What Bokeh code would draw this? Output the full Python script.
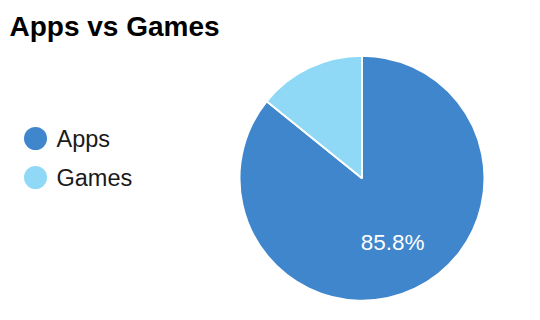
import math
from bokeh.plotting import figure
from bokeh.models import Range1d, ColumnDataSource
from bokeh.core.properties import value
from bokeh.embed import file_html
from bokeh.resources import INLINE

title_text = "Apps vs Games"
categories = ["Apps", "Games"]
shares = [85.8, 14.2]
colors = ["#3f86cc", "#8fd9f6"]

W, H = 540, 320
p = figure(width=W, height=H, output_backend="svg", toolbar_location=None,
           x_range=Range1d(0, W), y_range=Range1d(0, H), min_border=0)
p.axis.visible = False
p.grid.visible = False
p.outline_line_color = None
p.background_fill_color = "white"
p.border_fill_color = "white"

cx, cy, r = 361.5, H - 177.7, 122.5
total = sum(shares)
# slices go clockwise from 12 o'clock
starts, ends = [], []
acc = 0.0
for s in shares:
    a0 = math.pi / 2 - 2 * math.pi * acc / total
    a1 = math.pi / 2 - 2 * math.pi * (acc + s) / total
    starts.append(a1)
    ends.append(a0)
    acc += s
src = ColumnDataSource(dict(start=starts, end=ends, color=colors, cat=categories))
p.wedge(x=cx, y=cy, radius=r, start_angle="start", end_angle="end",
        fill_color="color", line_color="white", line_width=2, source=src)

# percentage label for the big slice
lx, ly, la = [], [], []
acc = 0.0
for s in shares:
    mid = math.pi / 2 - 2 * math.pi * (acc + s / 2) / total
    acc += s
    if s / total > 0.2:
        lx.append(cx + 0.58 * r * math.cos(mid))
        ly.append(cy + 0.58 * r * math.sin(mid))
        la.append(f"{s:.1f}%")
p.text(x=lx, y=ly, text=la, text_color="white", text_font=value("Liberation Sans"),
       text_font_size="22.5px", text_align="center", text_baseline="middle")

# legend
leg_y = [H - 138, H - 177]
p.scatter(x=[35, 35], y=leg_y, size=23, marker="circle", fill_color=colors, line_color=None)
p.text(x=[56, 56], y=leg_y, text=categories, text_color="#1a1a1a",
       text_font=value("Liberation Sans"), text_font_size="23.5px",
       text_align="left", text_baseline="middle")

# title
p.text(x=[9], y=[H - 26], text=[title_text], text_color="#000000",
       text_font=value("Liberation Sans"), text_font_size="28px", text_font_style="bold",
       text_align="left", text_baseline="alphabetic")

open("out.html", "w").write(file_html(p, INLINE))
